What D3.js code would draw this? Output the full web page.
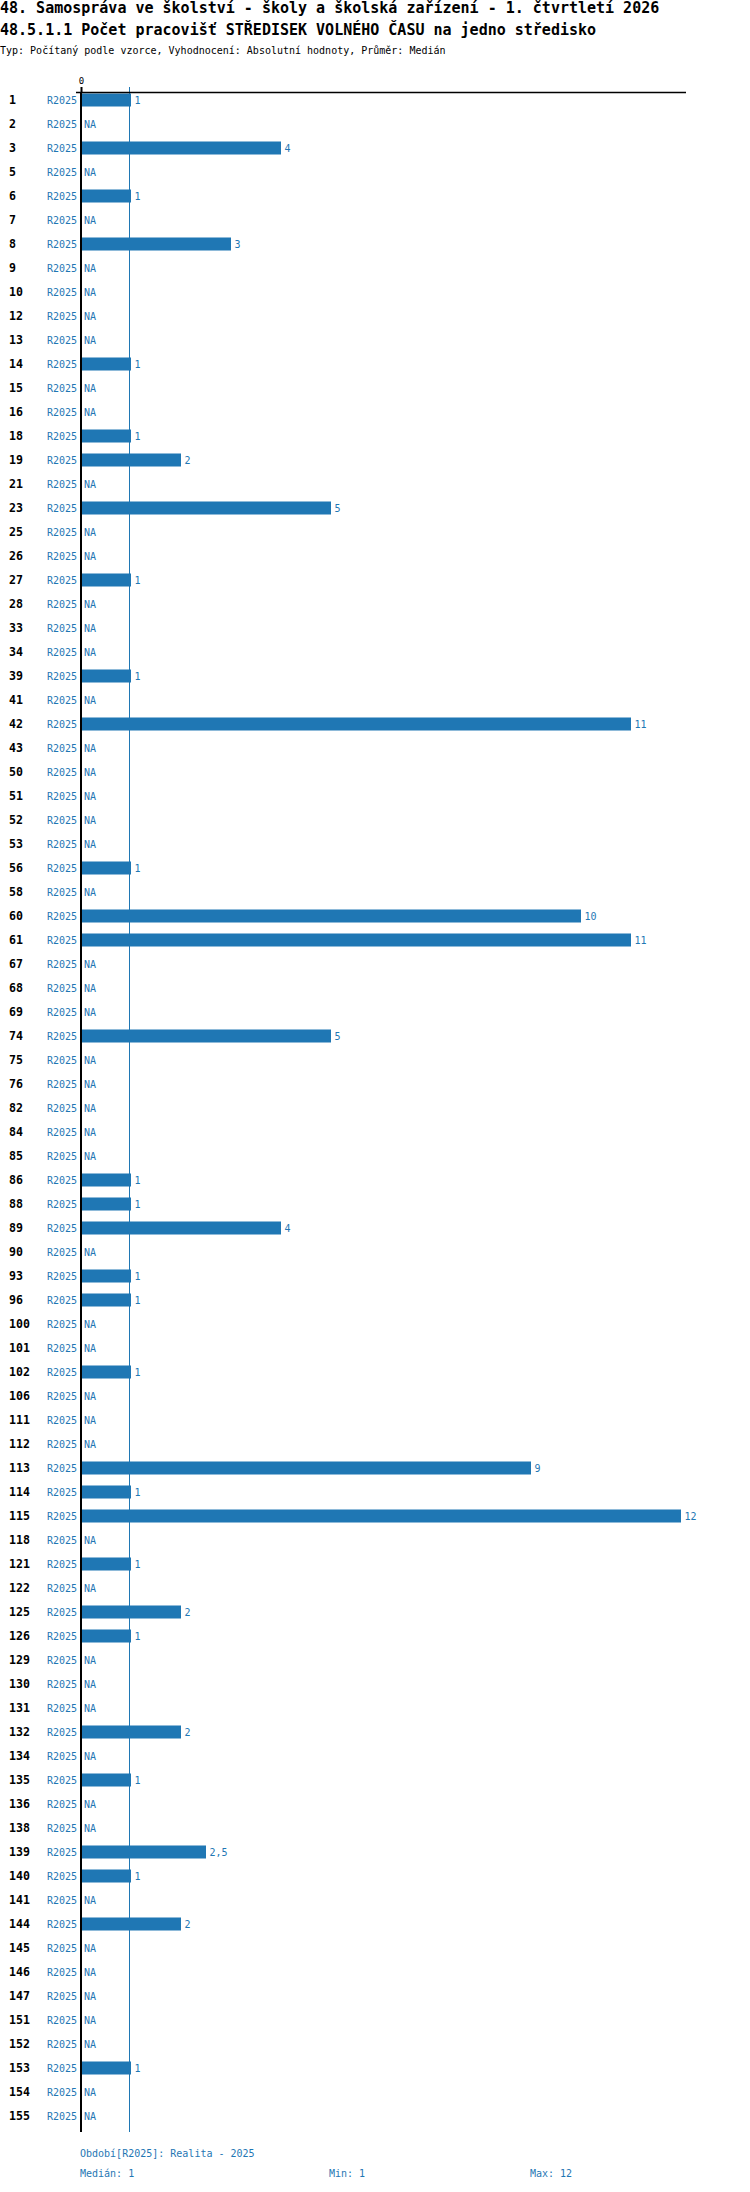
<!DOCTYPE html>
<html>
<head>
<meta charset="utf-8">
<script src="https://cdn.jsdelivr.net/npm/d3@7"></script>
<style>
  html, body { margin: 0; padding: 0; background: #fff; }
  svg { display: block; }
  text { font-family: "DejaVu Sans Mono", "Liberation Mono", monospace; }
</style>
</head>
<body>
<svg id="chart" width="750" height="2192"></svg>
<script>
const titleLine1 = "48. Samospráva ve školství - školy a školská zařízení - 1. čtvrtletí 2026";
const titleLine2 = "48.5.1.1 Počet pracovišť STŘEDISEK VOLNÉHO ČASU na jedno středisko";
const subtitle = "Typ: Počítaný podle vzorce, Vyhodnocení: Absolutní hodnoty, Průměr: Medián";
const periodLabel = "R2025";
const footerPeriod = "Období[R2025]: Realita - 2025";
const footerStats = ["Medián: 1", "Min: 1", "Max: 12"];
const xTicks = [0];
const medianValue = 1;

const categories = ["1","2","3","5","6","7","8","9","10","12","13","14","15","16","18","19","21","23","25","26",
  "27","28","33","34","39","41","42","43","50","51","52","53","56","58","60","61","67","68","69","74",
  "75","76","82","84","85","86","88","89","90","93","96","100","101","102","106","111","112","113","114","115",
  "118","121","122","125","126","129","130","131","132","134","135","136","138","139","140","141","144","145","146","147",
  "151","152","153","154","155"];
const values = [1,null,4,null,1,null,3,null,null,null,null,1,null,null,1,2,null,5,null,null,
  1,null,null,null,1,null,11,null,null,null,null,null,1,null,10,11,null,null,null,5,
  null,null,null,null,null,1,1,4,null,1,1,null,null,1,null,null,null,9,1,12,
  null,1,null,2,1,null,null,null,2,null,1,null,null,2.5,1,null,2,null,null,null,
  null,null,1,null,null];

const blue = "#1f77b4";
const svg = d3.select("#chart");

// titles
svg.append("text").attr("x", 0).attr("y", 13).attr("font-size", 15).attr("font-weight", "bold").attr("fill", "#000").text(titleLine1);
svg.append("text").attr("x", 0).attr("y", 35).attr("font-size", 15).attr("font-weight", "bold").attr("fill", "#000").text(titleLine2);
svg.append("text").attr("x", 0).attr("y", 54).attr("font-size", 10).attr("fill", "#000").text(subtitle);

const x = d3.scaleLinear().domain([0, 12]).range([81, 681]);
const y = d3.scalePoint().domain(categories).range([100, 100 + (categories.length - 1) * 24]);
const barH = 13;
const axisTop = 92.5;
const axisBottom = 2132;

// median line
svg.append("line").attr("x1", x(medianValue) - 1.5).attr("x2", x(medianValue) - 1.5)
  .attr("y1", 87).attr("y2", axisBottom).attr("stroke", blue).attr("stroke-width", 1);

// bars
const rows = categories.map((c, i) => ({ c, v: values[i] }));
svg.append("g").selectAll("rect").data(rows.filter(d => d.v != null)).join("rect")
  .attr("x", x(0) + 1)
  .attr("y", d => y(d.c) - barH / 2)
  .attr("width", d => x(d.v) - x(0) - 1)
  .attr("height", barH)
  .attr("fill", blue);

// value labels
const fmt = v => String(v).replace(".", ",");
svg.append("g").selectAll("text").data(rows).join("text")
  .attr("x", d => d.v == null ? 84 : x(d.v) + 3.5)
  .attr("y", d => y(d.c) + 4)
  .attr("font-size", 10).attr("fill", blue)
  .text(d => d.v == null ? "NA" : fmt(d.v));

// category labels
svg.append("g").selectAll("text").data(rows).join("text")
  .attr("x", 9).attr("y", d => y(d.c) + 4)
  .attr("font-size", 11.6).attr("font-weight", "bold").attr("fill", "#000")
  .text(d => d.c);

// period labels
svg.append("g").selectAll("text").data(rows).join("text")
  .attr("x", 77).attr("y", d => y(d.c) + 4)
  .attr("text-anchor", "end")
  .attr("font-size", 10).attr("fill", blue)
  .text(periodLabel);

// axis lines
svg.append("line").attr("x1", 76).attr("x2", 686).attr("y1", axisTop).attr("y2", axisTop)
  .attr("stroke", "#000").attr("stroke-width", 1.5);
svg.append("line").attr("x1", 81).attr("x2", 81).attr("y1", axisTop).attr("y2", axisBottom)
  .attr("stroke", "#000").attr("stroke-width", 2);

// top axis tick + label
const ax = svg.append("g").attr("transform", `translate(0,${axisTop})`)
  .call(d3.axisTop(x).tickValues(xTicks).tickSize(5.5).tickPadding(3).tickFormat(d3.format("d")));
ax.select(".domain").remove();
ax.selectAll(".tick line").attr("stroke", "#000").attr("stroke-width", 2);
ax.selectAll("text").attr("font-size", 9).attr("fill", "#000").attr("font-family", "DejaVu Sans Mono, monospace");

// footer
svg.append("text").attr("x", 80).attr("y", 2157).attr("font-size", 10).attr("fill", blue).text(footerPeriod);
const statX = [80, 329, 530];
svg.append("g").selectAll("text").data(footerStats).join("text")
  .attr("x", (d, i) => statX[i]).attr("y", 2177)
  .attr("font-size", 10).attr("fill", blue).text(d => d);
</script>
</body>
</html>
